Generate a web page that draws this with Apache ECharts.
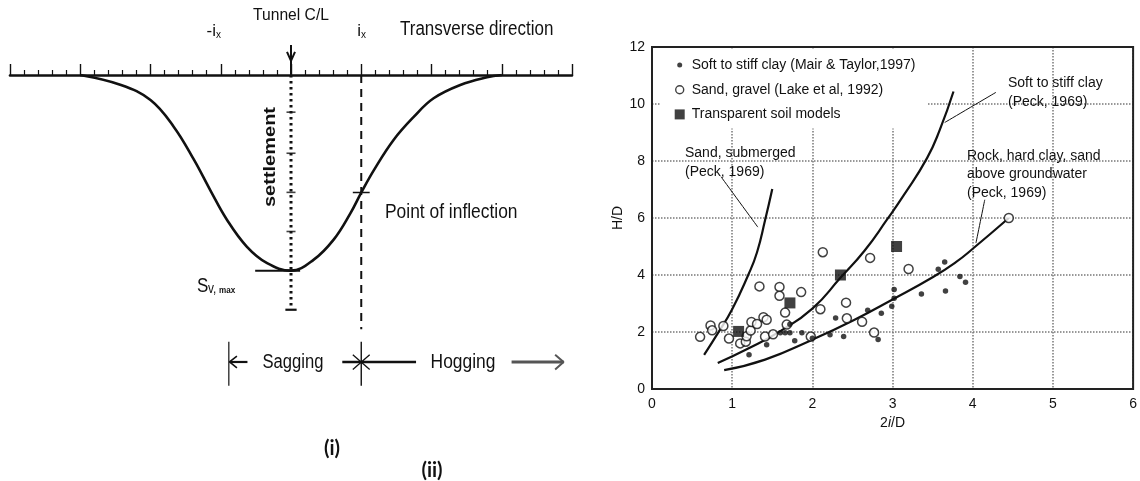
<!DOCTYPE html>
<html><head><meta charset="utf-8">
<script src="https://cdn.jsdelivr.net/npm/echarts@6/dist/echarts.min.js"></script>
<style>html,body{margin:0;padding:0;background:#fff}#c{width:1140px;height:481px}</style>
</head><body><div id="c"></div>
<script>
// ===================== (ii) H/D versus 2i/D =====================
// Soft to stiff clay (Mair & Taylor, 1997) - filled dots
const clayX = [1.21,1.43,1.60,1.66,1.72,1.78,1.72,1.87,2.00,2.22,2.29,2.39,2.69,2.82,2.86,2.99,3.02,3.02,3.36,3.57,3.65,3.66,3.84,3.91];
const clayY = [1.20,1.55,1.97,1.97,1.97,1.69,2.27,1.97,1.78,1.90,2.49,1.84,2.76,1.74,2.66,2.90,3.49,3.18,3.33,4.20,4.46,3.44,3.95,3.75];
// Sand, gravel (Lake et al, 1992) - open circles
const sandX = [0.60,0.73,0.75,0.89,0.96,1.10,1.17,1.18,1.23,1.24,1.31,1.39,1.43,1.34,1.41,1.51,1.59,1.59,1.66,1.68,1.86,1.98,2.10,2.13,2.42,2.43,2.62,2.72,2.77,3.20,4.45];
const sandY = [1.83,2.23,2.06,2.21,1.77,1.60,1.66,1.85,2.05,2.35,2.28,2.52,2.43,3.60,1.84,1.92,3.58,3.27,2.68,2.26,3.40,1.84,2.80,4.80,3.03,2.48,2.36,4.60,1.98,4.21,6.00];
// Transparent soil models - filled squares
const modelX = [1.08,1.72,2.35,3.05];
const modelY = [2.02,3.02,4.00,5.00];
// Peck (1969) curves
const sandSubX = [0.65,0.82,1.00,1.20,1.31,1.41,1.50];
const sandSubY = [1.20,1.95,2.80,4.00,4.80,5.92,7.02];
const softClayX = [0.82,1.20,1.60,2.00,2.35,2.65,2.93,3.14,3.43,3.59,3.76];
const softClayY = [0.91,1.42,2.03,2.82,3.90,4.85,5.94,6.80,8.10,9.10,10.44];
const rockX = [0.90,1.41,2.00,2.52,3.00,3.50,3.79,4.00,4.45];
const rockY = [0.66,1.03,1.73,2.42,3.14,3.92,4.45,4.92,6.00];
// leader lines from the curve labels
const leaderSandX = [0.86,1.32], leaderSandY = [7.45,5.68];
const leaderSoftX = [4.29,3.65], leaderSoftY = [10.41,9.35];
const leaderRockX = [4.15,4.04], leaderRockY = [6.64,5.12];
const xTickLabels = ['0','1','2','3','4','5','6'];
const yTickLabels = ['0','2','4','6','8','10','12'];

// ===================== (i) settlement trough (x in units of i_x, S in units of Sv,max) =====================
const troughX = [-3.00,-2.42,-2.00,-1.67,-1.38,-1.15,-0.91,-0.63,-0.34,0.00,0.32,0.61,0.845,1.00,1.18,1.46,1.75,2.03,2.41,2.79,3.00];
const troughS = [0.000,0.051,0.128,0.264,0.434,0.588,0.741,0.877,0.962,1.000,0.945,0.840,0.707,0.601,0.486,0.332,0.213,0.119,0.051,0.012,0.000];
const settleLine = [[0,0],[0,1.2]];
const settleMarks = [0.19,0.40,0.60,0.80,1.00];
const settleCap = [[-0.08,1.2],[0.08,1.2]];
const smaxLine = [[-0.51,1.0],[0.13,1.0]];
const ixLine = [[1,0],[1,1.30]];
const inflectTick = [[0.88,0.601],[1.12,0.601]];
const clArrow = [[0,-0.153],[0,0]];
const clArrowHead = [[-0.057,-0.118],[0,-0.072],[0.057,-0.118]];
const sagBar = [[-0.885,1.364],[-0.885,1.589]];
const sagArrow = [[-0.62,1.467],[-0.875,1.467]];
const sagHead = [[-0.77,1.437],[-0.875,1.467],[-0.77,1.497]];
const midBar = [[1,1.364],[1,1.589]];
const midLine = [[0.73,1.467],[1.78,1.467]];
const starA = [[0.88,1.43],[1.12,1.505]];
const starB = [[0.88,1.505],[1.12,1.43]];
const hogArrow = [[3.14,1.467],[3.88,1.467]];
const hogHead = [[3.76,1.43],[3.88,1.467],[3.76,1.505]];

const zip = (a, b) => a.map((v, i) => [v, b[i]]);
const FONT = '"Liberation Sans", Arial, sans-serif';
const INK = '#111';

function seg(data, opts) {
  opts = opts || {};
  return {
    type: 'line', xAxisIndex: 0, yAxisIndex: 0, data: data, symbol: 'none',
    silent: true, clip: opts.clip !== undefined ? opts.clip : true,
    smooth: opts.smooth || false,
    lineStyle: { color: opts.color || INK, width: opts.width || 2, type: opts.type || 'solid', cap: opts.cap || 'butt' },
    z: 3
  };
}
function curve(xs, ys, w) {
  return {
    type: 'line', xAxisIndex: 1, yAxisIndex: 1, data: zip(xs, ys), symbol: 'none', silent: true,
    smooth: 0.5, lineStyle: { color: INK, width: w }, z: 3
  };
}

const chart = echarts.init(document.getElementById('c'), null, { renderer: 'canvas' });

function txt(x, y, s, font, extra) {
  return Object.assign({
    type: 'text', x: x, y: y, silent: true, z: 10,
    style: { text: s, font: font, fill: INK, align: 'left', verticalAlign: 'middle' }
  }, extra || {});
}
const narrow = (sz, bold) => (bold ? 'bold ' : '') + sz + 'px ' + FONT;
const ctr = (s, font) => ({ text: s, font: font, fill: INK, align: 'center', verticalAlign: 'middle' });
const BOLDLBL = 'bold 20px Lato, "Liberation Sans", sans-serif';

const graphics = [
  // (i) labels
  txt(291, 15, 'Tunnel C/L', narrow(17), { scaleX: 0.92, style: ctr('Tunnel C/L', narrow(17)) }),
  txt(216, 31, '-i', narrow(17), { style: { text: '-i', font: narrow(17), fill: INK, align: 'right', verticalAlign: 'middle' } }),
  txt(216, 35, 'x', narrow(10)),
  txt(361, 31, 'i', narrow(17), { style: { text: 'i', font: narrow(17), fill: INK, align: 'right', verticalAlign: 'middle' } }),
  txt(361, 35, 'x', narrow(10)),
  txt(400, 29, 'Transverse direction', narrow(20), { scaleX: 0.85 }),
  txt(385, 212, 'Point of inflection', narrow(20), { scaleX: 0.87 }),
  txt(293, 362, 'Sagging', narrow(20), { scaleX: 0.83, style: ctr('Sagging', narrow(20)) }),
  txt(463, 362, 'Hogging', narrow(20), { scaleX: 0.87, style: ctr('Hogging', narrow(20)) }),
  txt(271, 157, 'settlement', narrow(16, true), { rotation: Math.PI / 2, scaleX: 1.25, style: ctr('settlement', narrow(16, true)) }),
  txt(197, 286, 'S', narrow(20), { scaleX: 0.85 }),
  txt(208, 289, 'v,', narrow(14), { scaleX: 0.85 }),
  txt(219, 291, 'max', narrow(9, true), { scaleX: 0.9 }),
  txt(332, 449, '(i)', BOLDLBL, { style: ctr('(i)', BOLDLBL) }),
  txt(432, 471, '(ii)', BOLDLBL, { style: ctr('(ii)', BOLDLBL) }),
  // (ii) curve labels
  txt(685, 153, 'Sand, submerged', narrow(14)),
  txt(685, 172, '(Peck, 1969)', narrow(14)),
  txt(1008, 83, 'Soft to stiff clay', narrow(14)),
  txt(1008, 102, '(Peck, 1969)', narrow(14)),
  txt(967, 156, 'Rock, hard clay, sand', narrow(14)),
  txt(967, 174, 'above groundwater', narrow(14)),
  txt(967, 193, '(Peck, 1969)', narrow(14))
];

const option = {
  animation: false,
  backgroundColor: '#fff',
  textStyle: { fontFamily: FONT },
  grid: [
    { left: 10, top: 75, width: 562, height: 313 },
    { left: 652, top: 47, width: 486, height: 342, show: true, borderColor: '#222', borderWidth: 2, backgroundColor: 'transparent', z: 5 }
  ],
  xAxis: [
    { gridIndex: 0, type: 'value', min: -4, max: 4, interval: 1, position: 'top',
      axisLine: { show: true, onZero: false, lineStyle: { color: INK, width: 2.6 } },
      axisTick: { show: true, length: 11, lineStyle: { color: INK, width: 1.4 } },
      minorTick: { show: true, splitNumber: 5, length: 5, lineStyle: { color: INK, width: 1.2 } },
      axisLabel: { show: false }, splitLine: { show: false } },
    { gridIndex: 1, type: 'value', min: 0, max: 6, interval: 1, position: 'bottom',
      axisLine: { show: false, onZero: false }, axisTick: { show: false },
      axisLabel: { show: true, margin: 8, fontSize: 14, color: INK, fontFamily: FONT,
        formatter: v => xTickLabels[Math.round(v)] },
      splitLine: { show: true, lineStyle: { color: '#777', width: 1.5, type: [1.5, 1.5] } },
      name: '2{it|i}/D', nameLocation: 'middle', nameGap: 25,
      nameTextStyle: { fontSize: 14, color: INK, fontFamily: FONT,
        rich: { it: { fontSize: 14, fontStyle: 'italic', color: INK, fontFamily: FONT } } } }
  ],
  yAxis: [
    { gridIndex: 0, type: 'value', min: 0, max: 1.6, inverse: true, show: false },
    { gridIndex: 1, type: 'value', min: 0, max: 12, interval: 2,
      axisLine: { show: false, onZero: false }, axisTick: { show: false },
      axisLabel: { show: true, margin: 7, fontSize: 14, color: INK, fontFamily: FONT,
        formatter: v => yTickLabels[Math.round(v / 2)] },
      splitLine: { show: true, lineStyle: { color: '#777', width: 1.5, type: [1.5, 1.5] } },
      name: 'H/D', nameLocation: 'middle', nameGap: 24, nameRotate: 90,
      nameTextStyle: { fontSize: 14, color: INK, fontFamily: FONT } }
  ],
  legend: {
    show: true, orient: 'vertical', left: 660, top: 50, itemGap: 10, itemWidth: 14, itemHeight: 14,
    backgroundColor: '#fff', padding: [8, 12, 7, 12], selectedMode: false, z: 6,
    textStyle: { fontSize: 14, color: INK, fontFamily: FONT },
    data: [
      { name: 'Soft to stiff clay (Mair & Taylor,1997)',
        icon: 'path://M0,0M14,14M4.5,7a2.5,2.5 0 1,0 5,0a2.5,2.5 0 1,0 -5,0z',
        itemStyle: { color: INK, borderWidth: 0 } },
      { name: 'Sand, gravel (Lake et al, 1992)',
        icon: 'path://M0,0M14,14M3,7a4,4 0 1,0 8,0a4,4 0 1,0 -8,0z',
        itemStyle: { color: '#fff', borderColor: INK, borderWidth: 1.4 } },
      { name: 'Transparent soil models',
        icon: 'path://M0,0M14,14M2,2L12,2L12,12L2,12z',
        itemStyle: { color: INK, borderWidth: 0 } }
    ]
  },
  graphic: graphics,
  series: [
    // ---- (i) diagram ----
    seg(zip(troughX, troughS), { smooth: 0.4, width: 2.6 }),
    seg(settleLine, { width: 3, type: [2.5, 3.5] }),
    { type: 'scatter', xAxisIndex: 0, yAxisIndex: 0, silent: true, symbol: 'rect', symbolSize: [9, 1.6],
      data: settleMarks.map(d => [0, d]), itemStyle: { color: INK }, z: 3 },
    seg(settleCap, { width: 2.2 }),
    seg(smaxLine, { width: 2 }),
    seg(ixLine, { width: 2, type: [8, 6] }),
    seg(inflectTick, { width: 1.5 }),
    seg(clArrow, { width: 2, clip: false }),
    seg(clArrowHead, { width: 2, clip: false }),
    seg(sagBar, { width: 1.2 }),
    seg(sagArrow, { width: 2.2 }),
    seg(sagHead, { width: 1.6 }),
    seg(midBar, { width: 1.4 }),
    seg(midLine, { width: 2.4 }),
    seg(starA, { width: 1.3 }),
    seg(starB, { width: 1.3 }),
    seg(hogArrow, { width: 3.2, color: '#555' }),
    seg(hogHead, { width: 2, color: '#555' }),
    // ---- (ii) chart ----
    curve(sandSubX, sandSubY, 2.2),
    curve(softClayX, softClayY, 2.2),
    curve(rockX, rockY, 2.2),
    curve(leaderSandX, leaderSandY, 1),
    curve(leaderSoftX, leaderSoftY, 1),
    curve(leaderRockX, leaderRockY, 1),
    { name: 'Sand, gravel (Lake et al, 1992)', type: 'scatter', xAxisIndex: 1, yAxisIndex: 1, silent: true,
      symbol: 'circle', symbolSize: 9, data: zip(sandX, sandY),
      itemStyle: { color: '#fff', borderColor: INK, borderWidth: 1.5 }, z: 4 },
    { name: 'Soft to stiff clay (Mair & Taylor,1997)', type: 'scatter', xAxisIndex: 1, yAxisIndex: 1, silent: true,
      symbol: 'circle', symbolSize: 5.5, data: zip(clayX, clayY), itemStyle: { color: INK }, z: 5 },
    { name: 'Transparent soil models', type: 'scatter', xAxisIndex: 1, yAxisIndex: 1, silent: true,
      symbol: 'rect', symbolSize: 11, data: zip(modelX, modelY), itemStyle: { color: INK }, z: 5 }
  ]
};
chart.setOption(option);
</script>
</body></html>
